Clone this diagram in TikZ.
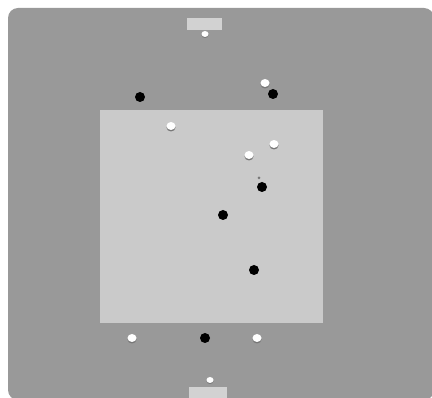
\documentclass[tikz,border=0pt]{standalone}
\usepackage{xcolor}
\usetikzlibrary{math}
\definecolor{fieldgray}{RGB}{153,153,153}
\definecolor{boxgray}{RGB}{202,202,202}
\definecolor{goalgray}{RGB}{210,210,210}
\definecolor{shadegray}{RGB}{120,120,120}

\tikzset{
  blackball/.style={fill=black},
  whiteball/.style={fill=white},
}

\begin{document}
\begin{tikzpicture}[x=1pt,y=-1pt]
\tikzmath{
\rb=5;
\rw=4.5;
}
\useasboundingbox (0,0) rectangle (432,398);

 %field
 \fill[fieldgray, rounded corners=10pt] (8,8) rectangle (434,400);
 \fill[boxgray] (100,110) rectangle (323,323);

 %goals
 \fill[goalgray] (187,18) rectangle (222,30);
 \fill[goalgray] (189,387) rectangle (227,400);

 \coordinate (GT) at (205,34);
 \coordinate (GB) at (210,380);

 %white balls
 \coordinate (W1) at (265,83);
 \coordinate (W2) at (171,126);
 \coordinate (W3) at (274,144);
 \coordinate (W4) at (249,155);
 \coordinate (W5) at (132,338);
 \coordinate (W6) at (257,338);

 %black balls
 \coordinate (B1) at (140,97);
 \coordinate (B2) at (273,94);
 \coordinate (B3) at (262,187);
 \coordinate (B4) at (223,215);
 \coordinate (B5) at (254,270);
 \coordinate (B6) at (205,338);

 \foreach \p in {W1,W2,W3,W4,W5,W6}{
   \fill[shadegray] ([yshift=-1.5]\p) ellipse [x radius=\rw, y radius=\rw-0.5];
   \fill[whiteball] (\p) ellipse [x radius=\rw, y radius=\rw-0.5];
 }
 \fill[shadegray] ([yshift=-1]GT) ellipse [x radius=3.5, y radius=3];
 \fill[whiteball] (GT) ellipse [x radius=3.5, y radius=3];
 \fill[shadegray] ([yshift=-1]GB) ellipse [x radius=3.5, y radius=3];
 \fill[whiteball] (GB) ellipse [x radius=3.5, y radius=3];

 \foreach \p in {B1,B2,B3,B4,B5,B6}{
   \fill[blackball] (\p) circle (\rb);
 }

 \fill[shadegray] (259,178) circle (1.5);

\end{tikzpicture}
\end{document}
